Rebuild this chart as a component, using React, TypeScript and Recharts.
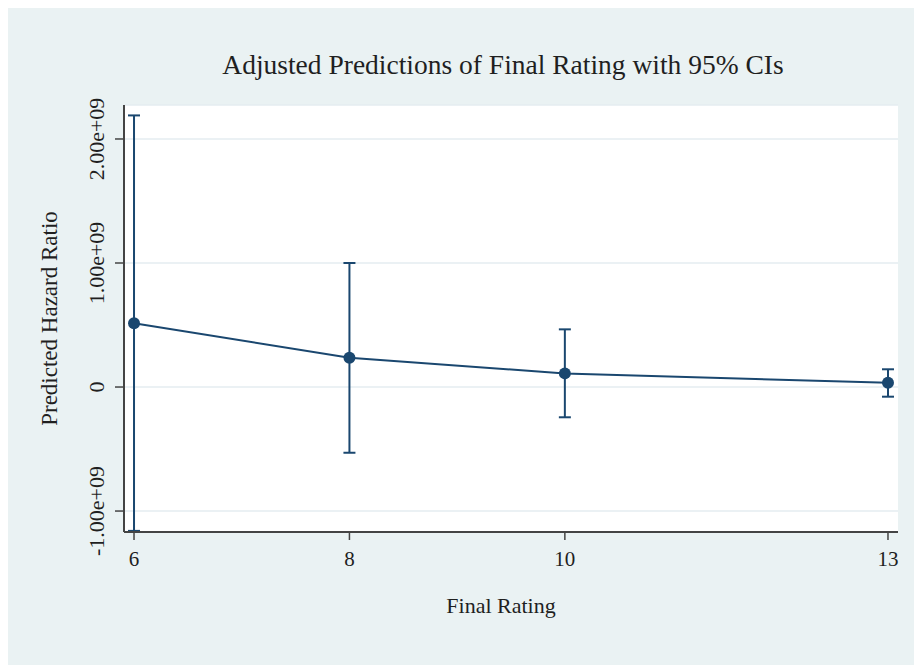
import {
  ComposedChart,
  Line,
  XAxis,
  YAxis,
  CartesianGrid,
  ErrorBar,
} from 'recharts';

const ratings = [6, 8, 10, 13];
const predicted = [0.515e9, 0.236e9, 0.11e9, 0.034e9];
const ciLow = [-1.16e9, -0.53e9, -0.244e9, -0.078e9];
const ciHigh = [2.19e9, 1.0e9, 0.465e9, 0.143e9];
const xTicks = [6, 8, 10, 13];
const yTicks = [-1e9, 0, 1e9, 2e9];

const NAVY = '#1a476f';
const BG = '#eaf2f3';
const INK = '#1f1f1f';
const FONT = '"Liberation Serif", "DejaVu Serif", serif';

const data = ratings.map((r, i) => ({
  rating: r,
  pred: predicted[i],
  ci: [predicted[i] - ciLow[i], ciHigh[i] - predicted[i]],
}));

// Stata style: 1.00e+09
const fmtY = (v: number) =>
  v === 0 ? '0' : v.toExponential(2).replace(/e([+-])(\d)$/, 'e$10$2');

const YTick = ({ x, y, payload }: any) => {
  const cx = x - 17;
  return (
    <text
      x={cx}
      y={y}
      dy="0.35em"
      textAnchor="middle"
      transform={`rotate(-90, ${cx}, ${y})`}
      fill={INK}
      fontSize={22}
      fontFamily={FONT}
    >
      {fmtY(payload.value)}
    </text>
  );
};

const XLabel = ({ viewBox }: any) => (
  <text
    x={viewBox.x + viewBox.width / 2 - 10}
    y={viewBox.y + 73}
    textAnchor="middle"
    dominantBaseline="central"
    fill={INK}
    fontSize={22}
    fontFamily={FONT}
  >
    Final Rating
  </text>
);

const YLabel = ({ viewBox }: any) => {
  const cx = 41;
  const cy = viewBox.y + viewBox.height / 2;
  return (
    <text
      x={cx}
      y={cy}
      dy="0.35em"
      textAnchor="middle"
      transform={`rotate(-90, ${cx}, ${cy})`}
      fill={INK}
      fontSize={23}
      fontFamily={FONT}
    >
      Predicted Hazard Ratio
    </text>
  );
};

export default function App() {
  return (
    <div style={{ position: 'relative', width: 914, height: 657, background: BG }}>
      <style>{'body{overflow:hidden}'}</style>
      <div
        style={{
          position: 'absolute',
          left: 95,
          top: 42,
          width: 800,
          textAlign: 'center',
          fontFamily: FONT,
          fontSize: 27.5,
          lineHeight: '30px',
          color: INK,
        }}
      >
        Adjusted Predictions of Final Rating with 95% CIs
      </div>
      <ComposedChart
        width={914}
        height={657}
        data={data}
        margin={{ top: 97, right: 24, bottom: 51, left: 0 }}
      >
        <CartesianGrid vertical={false} stroke="#e4edf0" strokeWidth={1.5} fill="#ffffff" />
        <XAxis
          type="number"
          dataKey="rating"
          domain={[5.907, 13.093]}
          ticks={xTicks}
          allowDataOverflow
          height={82}
          tickSize={8}
          tickMargin={11}
          axisLine={{ stroke: '#444', strokeWidth: 2 }}
          tickLine={{ stroke: '#444', strokeWidth: 1.5 }}
          tick={{ fill: INK, fontSize: 21, fontFamily: FONT }}
          label={<XLabel />}
        />
        <YAxis
          type="number"
          domain={[-1.169e9, 2.274e9]}
          ticks={yTicks}
          allowDataOverflow
          width={116}
          tickSize={9}
          axisLine={{ stroke: '#444', strokeWidth: 2 }}
          tickLine={{ stroke: '#444', strokeWidth: 1.5 }}
          tick={<YTick />}
          label={<YLabel />}
        />
        <Line
          type="linear"
          dataKey="pred"
          stroke={NAVY}
          strokeWidth={2}
          dot={{ r: 6, fill: NAVY, stroke: NAVY, strokeWidth: 0 }}
          isAnimationActive={false}
        >
          <ErrorBar
            dataKey="ci"
            direction="y"
            width={6}
            stroke={NAVY}
            strokeWidth={2}
            isAnimationActive={false}
          />
        </Line>
      </ComposedChart>
    </div>
  );
}
